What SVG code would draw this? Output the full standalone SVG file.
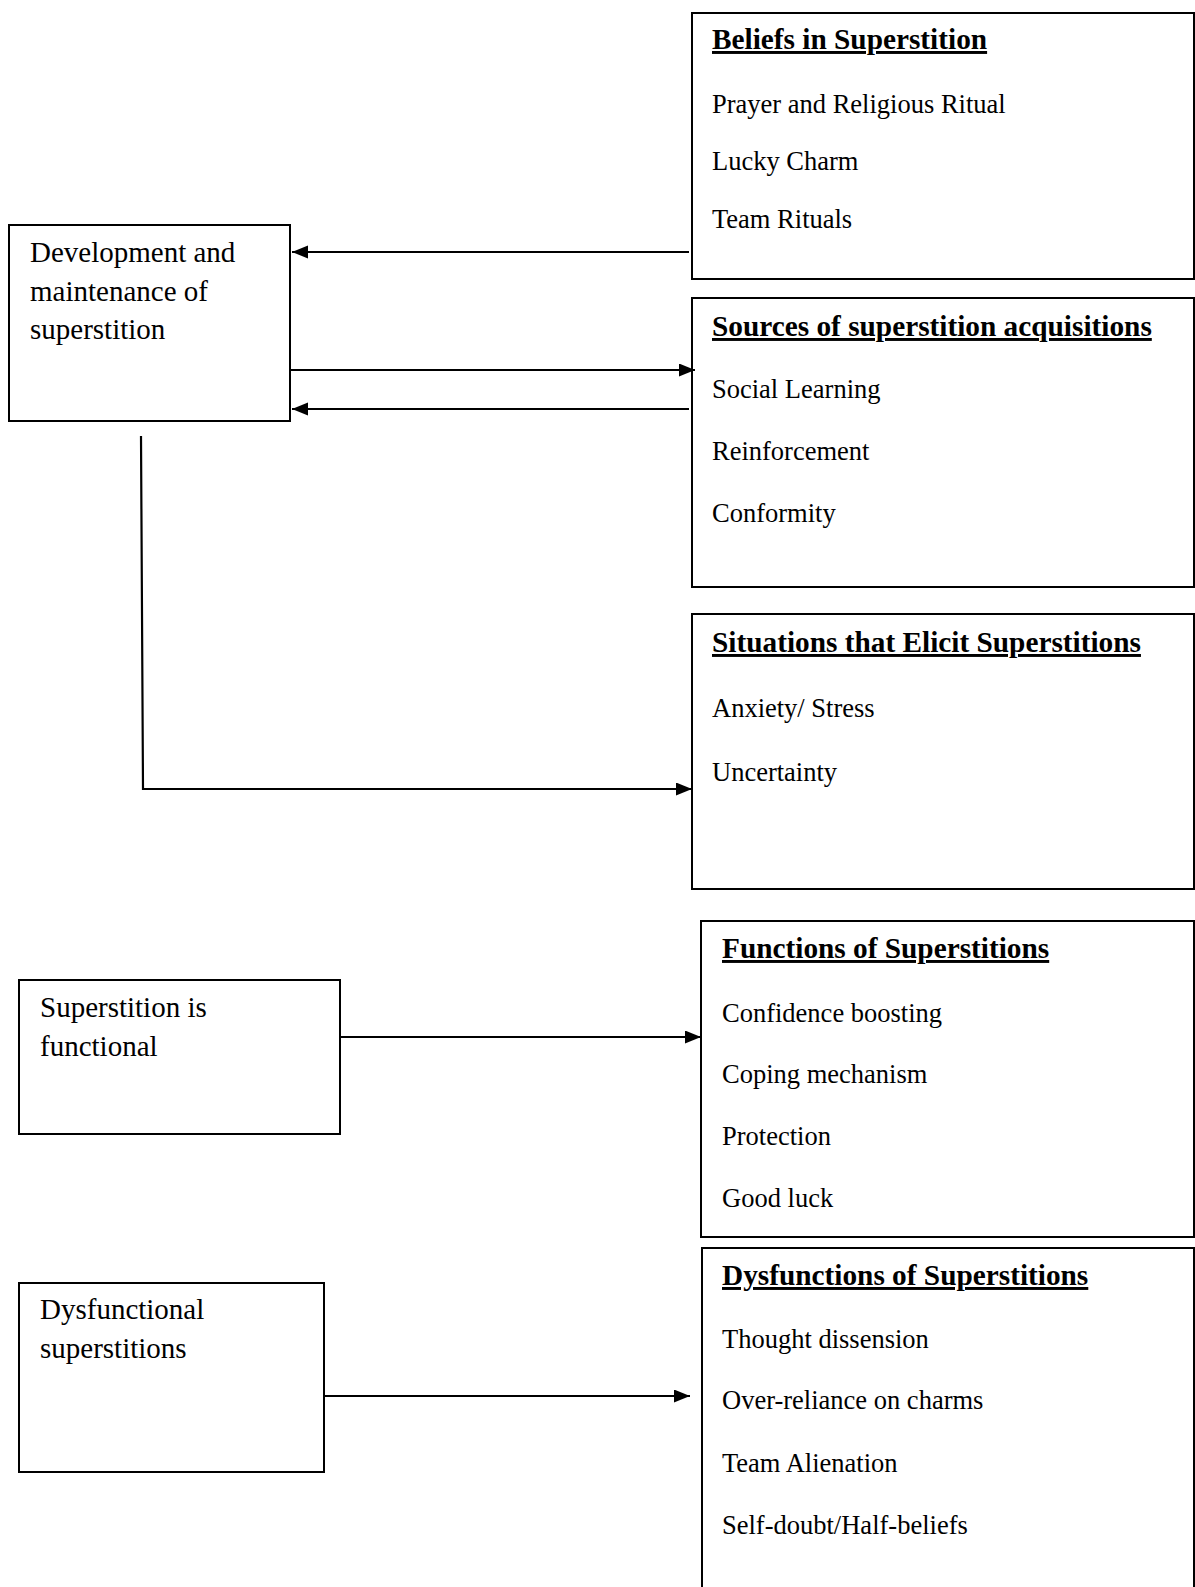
<svg xmlns="http://www.w3.org/2000/svg" width="1195" height="1587" viewBox="0 0 1195 1587">
<style>
.box{fill:#fff;stroke:#000;stroke-width:2}
.t{font-family:"Liberation Serif","Times New Roman",serif;fill:#000}
.lt{font-size:29px}
.it{font-size:26.5px}
.hd{font-size:29.3px;font-weight:bold;text-decoration:underline;text-decoration-thickness:2.6px;text-underline-offset:2px}
.c{fill:none;stroke:#000;stroke-width:2.2}
</style>
<defs>
<marker id="ah" markerUnits="userSpaceOnUse" markerWidth="17" markerHeight="14" refX="16" refY="6.5" orient="auto">
<path d="M0,0 L16,6.5 L0,13 z" fill="#000"/>
</marker>
</defs>
<rect width="1195" height="1587" fill="#fff"/>
<g id="beliefs">
<rect class="box" x="692" y="13" width="502" height="266"/>
<text class="t hd" x="712" y="49">Beliefs in Superstition</text>
<text class="t it" x="712" y="113">Prayer and Religious Ritual</text>
<text class="t it" x="712" y="170">Lucky Charm</text>
<text class="t it" x="712" y="228">Team Rituals</text>
</g>
<g id="development">
<rect class="box" x="9" y="225" width="281" height="196"/>
<text class="t lt" x="30" y="262">Development and</text>
<text class="t lt" x="30" y="301">maintenance of</text>
<text class="t lt" x="30" y="339">superstition</text>
</g>
<g id="sources">
<rect class="box" x="692" y="298" width="502" height="289"/>
<text class="t hd" x="712" y="336">Sources of superstition acquisitions</text>
<text class="t it" x="712" y="398">Social Learning</text>
<text class="t it" x="712" y="460">Reinforcement</text>
<text class="t it" x="712" y="522">Conformity</text>
</g>
<g id="situations">
<rect class="box" x="692" y="614" width="502" height="275"/>
<text class="t hd" x="712" y="652">Situations that Elicit Superstitions</text>
<text class="t it" x="712" y="717">Anxiety/ Stress</text>
<text class="t it" x="712" y="781">Uncertainty</text>
</g>
<g id="functional">
<rect class="box" x="19" y="980" width="321" height="154"/>
<text class="t lt" x="40" y="1017">Superstition is</text>
<text class="t lt" x="40" y="1056">functional</text>
</g>
<g id="functions">
<rect class="box" x="701" y="921" width="493" height="316"/>
<text class="t hd" x="722" y="958">Functions of Superstitions</text>
<text class="t it" x="722" y="1022">Confidence boosting</text>
<text class="t it" x="722" y="1083">Coping mechanism</text>
<text class="t it" x="722" y="1145">Protection</text>
<text class="t it" x="722" y="1207">Good luck</text>
</g>
<g id="dysfunctional">
<rect class="box" x="19" y="1283" width="305" height="189"/>
<text class="t lt" x="40" y="1319">Dysfunctional</text>
<text class="t lt" x="40" y="1358">superstitions</text>
</g>
<g id="dysfunctions">
<rect class="box" x="702" y="1248" width="492" height="360"/>
<text class="t hd" x="722" y="1285">Dysfunctions of Superstitions</text>
<text class="t it" x="722" y="1348">Thought dissension</text>
<text class="t it" x="722" y="1409">Over-reliance on charms</text>
<text class="t it" x="722" y="1472">Team Alienation</text>
<text class="t it" x="722" y="1534">Self-doubt/Half-beliefs</text>
</g>
<g id="connectors">
<path class="c" d="M689,252 L292,252" marker-end="url(#ah)"/>
<path class="c" d="M290,370 L695,370" marker-end="url(#ah)"/>
<path class="c" d="M689,409 L292,409" marker-end="url(#ah)"/>
<path class="c" d="M141,436 L143,789 L692,789" marker-end="url(#ah)"/>
<path class="c" d="M340,1037 L701,1037" marker-end="url(#ah)"/>
<path class="c" d="M324,1396 L690,1396" marker-end="url(#ah)"/>
</g>
</svg>
